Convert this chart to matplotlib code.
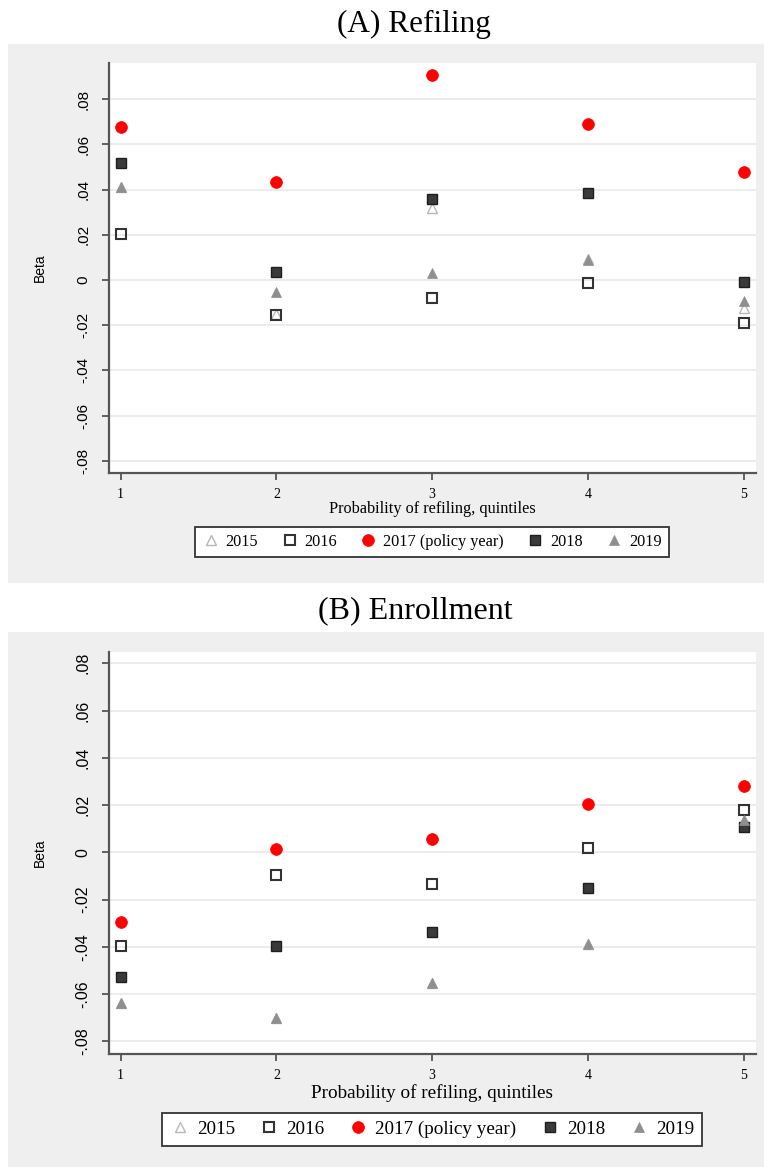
import numpy as np
import matplotlib
matplotlib.use("Agg")
import matplotlib.pyplot as plt
from matplotlib.patches import Rectangle
from matplotlib.ticker import FuncFormatter


#%% data

quintiles = [1, 2, 3, 4, 5]
year_labels = ['2015', '2016', '2017 (policy year)', '2018', '2019']

# (A) Refiling
refile_2015 = [0.0410, -0.0150, 0.0318, 0.0095, -0.0125]
refile_2016 = [0.0202, -0.0155, -0.0078, -0.0015, -0.0192]
refile_2017 = [0.0676, 0.0435, 0.0907, 0.0689, 0.0479]
refile_2018 = [0.0516, 0.0034, 0.0357, 0.0384, -0.0007]
refile_2019 = [0.0413, -0.0054, 0.0030, 0.0088, -0.0093]

# (B) Enrollment
enroll_2015 = [-0.0636, -0.0702, -0.0552, -0.0388, 0.0137]
enroll_2016 = [-0.0395, -0.0097, -0.0135, 0.0017, 0.0179]
enroll_2017 = [-0.0293, 0.0015, 0.0056, 0.0203, 0.0280]
enroll_2018 = [-0.0526, -0.0396, -0.0336, -0.0150, 0.0106]
enroll_2019 = [-0.0636, -0.0702, -0.0552, -0.0388, 0.0137]

y_ticks = [-0.08, -0.06, -0.04, -0.02, 0, 0.02, 0.04, 0.06, 0.08]

#%% plot features

W, H = 764, 1167
serif = 'Liberation Serif'
sans = 'Liberation Sans'
bg_grey = '#efefef'
axis_grey = '#555555'

# marker styles per year (2015 .. 2019)
styles = [
    dict(marker='^', ms=7, mfc='none', mec='#b8b8b8', mew=1.0),
    dict(marker='s', ms=7, mfc='none', mec='#333333', mew=1.5),
    dict(marker='o', ms=8.5, mfc='#ff0000', mec='#ff0000', mew=0.5),
    dict(marker='s', ms=7.5, mfc='#3a3a3a', mec='#1e1e1e', mew=1.0),
    dict(marker='^', ms=7.5, mfc='#8f8f8f', mec='#8f8f8f', mew=0.5),
]


def px_box(left, top, right, bottom):
    """pixel box -> figure fraction [l, b, w, h]"""
    return [left / W, 1 - bottom / H, (right - left) / W, (bottom - top) / H]


def beta_fmt(v, pos):
    if abs(v) < 1e-9:
        return '0'
    s = '%.2f' % v
    return s.replace('0.', '.')


def draw_panel(ax, series, ylim, big):
    for vals, st in zip(series, styles):
        ax.plot(quintiles, vals, linestyle='none', clip_on=False, zorder=3, **st)

    ax.set_xlim(0.923, 5.08)
    ax.set_ylim(*ylim)
    ax.set_xticks(quintiles)
    ax.set_yticks(y_ticks)
    ax.yaxis.set_major_formatter(FuncFormatter(beta_fmt))
    ax.yaxis.grid(True, color='#eaeaea', linewidth=1.3)
    ax.set_axisbelow(True)

    for side in ['top', 'right']:
        ax.spines[side].set_visible(False)
    for side in ['left', 'bottom']:
        ax.spines[side].set_color(axis_grey)
        ax.spines[side].set_linewidth(1.6)

    ax.tick_params(axis='both', direction='out', length=5, width=1.3, color=axis_grey)
    ax.tick_params(axis='y', pad=8)
    ax.tick_params(axis='x', pad=6)
    for lab in ax.get_yticklabels():
        lab.set_family(sans)
        lab.set_fontsize(11.5 if big else 11)
        lab.set_rotation(90)
        lab.set_va('center')
        lab.set_ha('right')
    for lab in ax.get_xticklabels():
        lab.set_family(serif)
        lab.set_fontsize(10)


fig = plt.figure(figsize=(W / 100, H / 100), dpi=100)
fig.patch.set_facecolor('white')

# grey Stata-style graph regions, kept behind the axes
for box in [(8, 44, 764, 583), (8, 632, 764, 1167)]:
    l, b, w, h = px_box(*box)
    fig.patches.append(Rectangle((l, b), w, h, transform=fig.transFigure,
                                 facecolor=bg_grey, edgecolor='none', zorder=-5))

#%% (A) Refiling

axA = fig.add_axes(px_box(108.7, 63, 756, 473))
axA.set_zorder(2)
draw_panel(axA, [refile_2015, refile_2016, refile_2017, refile_2018, refile_2019],
           (-0.0854, 0.096), big=False)
axA.set_xlabel('Probability of refiling, quintiles', family=serif, fontsize=11.7, va='center')
axA.xaxis.set_label_coords(0.5, (473 - 509) / 410)
axA.set_ylabel('Beta', family=sans, fontsize=10, va='center')
axA.yaxis.set_label_coords((40 - 108.7) / 647.3, 0.5)

legA = axA.legend(axA.get_lines(), year_labels, loc='center', ncol=5,
                  bbox_to_anchor=(432 / W, 1 - 542 / H), bbox_transform=fig.transFigure,
                  prop={'family': serif, 'size': 11.7}, handlelength=1.0,
                  handletextpad=0.4, columnspacing=1.45, borderpad=0.45,
                  fancybox=False, framealpha=1, edgecolor='#333333')
legA.get_frame().set_linewidth(1.3)

fig.text(414 / W, 1 - 32 / H, '(A) Refiling', ha='center', va='baseline',
         family=serif, fontsize=22.5)

#%% (B) Enrollment

axB = fig.add_axes(px_box(108.7, 651.7, 756, 1054))
axB.set_zorder(2)
draw_panel(axB, [enroll_2015, enroll_2016, enroll_2017, enroll_2018, enroll_2019],
           (-0.0853, 0.0849), big=True)
axB.set_xlabel('Probability of refiling, quintiles', family=serif, fontsize=13.8, va='center')
axB.xaxis.set_label_coords(0.5, (1054 - 1093) / 402.3)
axB.set_ylabel('Beta', family=sans, fontsize=10, va='center')
axB.yaxis.set_label_coords((40 - 108.7) / 647.3, 0.5)

legB = axB.legend(axB.get_lines(), year_labels, loc='center', ncol=5,
                  bbox_to_anchor=(432 / W, 1 - 1129.5 / H), bbox_transform=fig.transFigure,
                  prop={'family': serif, 'size': 13.8}, handlelength=1.0,
                  handletextpad=0.4, columnspacing=1.25, borderpad=0.4,
                  fancybox=False, framealpha=1, edgecolor='#333333')
legB.get_frame().set_linewidth(1.3)

fig.text(415 / W, 1 - 618 / H, '(B) Enrollment', ha='center', va='baseline',
         family=serif, fontsize=23)

plt.savefig('out.png', dpi=100)
plt.close(fig)
